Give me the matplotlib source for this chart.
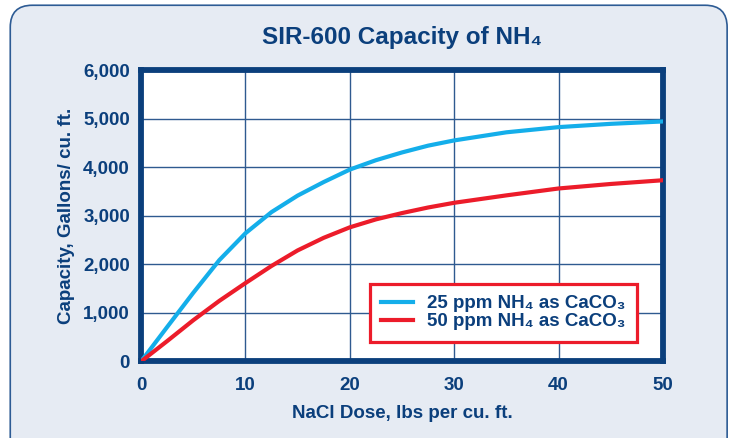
import matplotlib.pyplot as plt
from matplotlib.patches import FancyBboxPatch
import matplotlib.font_manager as fm

# data
dose = [0, 2.5, 5, 7.5, 10, 12.5, 15, 17.5, 20, 22.5, 25, 27.5, 30, 35, 40, 45, 50]
cap_25 = [0, 710, 1415, 2090, 2643, 3080, 3420, 3700, 3957, 4150, 4310, 4450, 4558, 4725, 4832, 4900, 4949]
cap_50 = [0, 420, 850, 1250, 1616, 1970, 2290, 2550, 2766, 2930, 3060, 3175, 3272, 3425, 3567, 3660, 3737]
x_ticks = [0, 10, 20, 30, 40, 50]
y_ticks = [0, 1000, 2000, 3000, 4000, 5000, 6000]

names = {f.name for f in fm.fontManager.ttflist}
main_font = 'Liberation Sans Narrow' if 'Liberation Sans Narrow' in names else 'Liberation Sans'
plt.rcParams['font.family'] = [main_font, 'DejaVu Sans']
plt.rcParams['font.weight'] = 'bold'

navy = '#0B3F7C'
bg = '#E6EBF3'

fig = plt.figure(figsize=(7.33, 4.38), dpi=100)
fig.patch.set_facecolor('white')
panel = FancyBboxPatch((0.014, -0.05), 0.978, 1.038, boxstyle='round,pad=0,rounding_size=0.03',
                       transform=fig.transFigure, facecolor=bg, edgecolor='#2D5B94', linewidth=1.2,
                       mutation_aspect=733 / 438, zorder=-10)
fig.patches.append(panel)

ax = fig.add_axes([0.1924, 0.1747, 0.7121, 0.6644])
ax.set_facecolor('white')
ax.plot(dose, cap_25, color='#14AEEA', linewidth=3, label='25 ppm NH₄ as CaCO₃', zorder=3)
ax.plot(dose, cap_50, color='#EC1C2A', linewidth=3, label='50 ppm NH₄ as CaCO₃', zorder=3)

ax.set_xlim(0, 50)
ax.set_ylim(0, 6000)
ax.set_xticks(x_ticks)
ax.set_yticks(y_ticks)
ax.set_yticklabels(['{:,}'.format(v) for v in y_ticks])
ax.grid(True, color='#2F5A90', linewidth=1)
ax.tick_params(length=0, labelsize=13.5, labelcolor=navy)
ax.tick_params(axis='x', pad=11)
ax.tick_params(axis='y', pad=8)
for s in ax.spines.values():
    s.set_color(navy)
    s.set_linewidth(4.2)

ax.set_xlabel('NaCl Dose, lbs per cu. ft.', fontsize=13.5, color=navy, fontweight='bold', labelpad=8)
ax.set_ylabel('Capacity, Gallons/ cu. ft.', fontsize=13.5, color=navy, fontweight='bold', labelpad=6)
ax.set_title('SIR-600 Capacity of NH₄', fontsize=17.5, color=navy, fontweight='bold', pad=19)

leg = ax.legend(loc='lower right', bbox_to_anchor=(0.950, 0.068), borderaxespad=0, fontsize=13.5,
                frameon=True, fancybox=False, handlelength=1.7, handletextpad=0.75, borderpad=0.6,
                labelspacing=0.05, labelcolor=navy)
leg.get_frame().set_edgecolor('#EC1C2A')
leg.get_frame().set_linewidth(2.3)
leg.get_frame().set_alpha(1)

fig.savefig('out.png', dpi=100, facecolor=fig.get_facecolor())
